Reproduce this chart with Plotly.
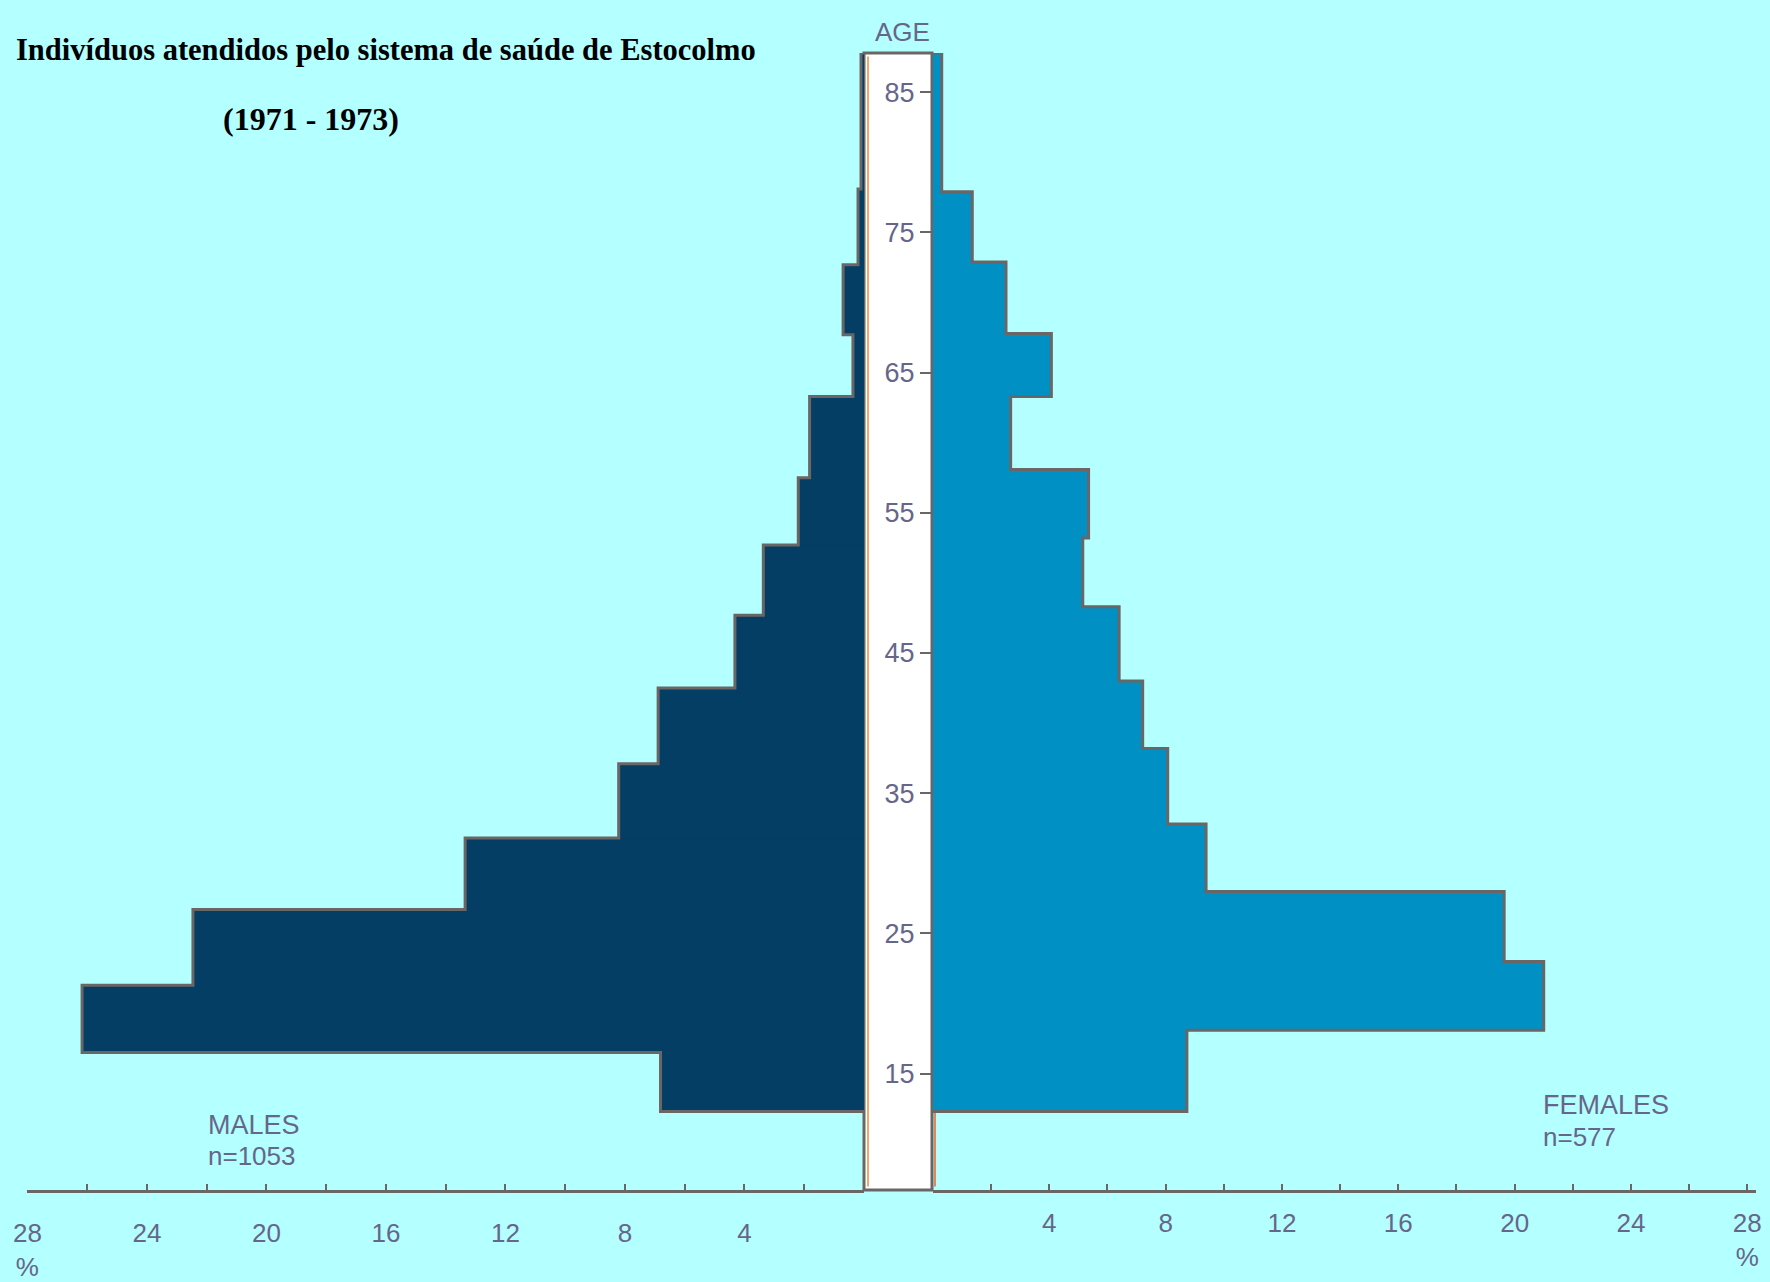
import plotly.graph_objects as go

# ---------------- data ----------------
# age-group bin edges (years) and percentage of individuals in each group
male_age_edges = [12.3, 16.5, 21.3, 26.7, 31.8, 37.1, 42.5, 47.7, 52.7, 57.5, 63.3, 67.7, 72.7, 78.1, 87.8]
male_pct = [6.81, 26.17, 22.46, 13.35, 8.21, 6.89, 4.32, 3.37, 2.20, 1.82, 0.37, 0.70, 0.20, 0.10]

female_age_edges = [12.3, 18.1, 23.0, 28.0, 32.8, 38.2, 43.0, 48.3, 53.2, 58.1, 63.3, 67.8, 72.9, 77.9, 87.8]
female_pct = [8.73, 21.0, 19.64, 9.39, 8.07, 7.21, 6.40, 5.15, 5.35, 2.67, 4.07, 2.51, 1.35, 0.30]

age_ticks = [15, 25, 35, 45, 55, 65, 75, 85]
pct_ticks = [2, 4, 6, 8, 10, 12, 14, 16, 18, 20, 22, 24, 26, 28]
pct_labels = ["", "4", "", "8", "", "12", "", "16", "", "20", "", "24", "", "28<br>%"]

title_text = "Indivíduos atendidos pelo sistema de saúde de Estocolmo"
years_text = "(1971 - 1973)"
male_label = "MALES"
male_n = "n=1053"
female_label = "FEMALES"
female_n = "n=577"
age_label = "AGE"

# ---------------- styling ----------------
W, H = 1770, 1282
TOP, BOTTOM = 53, 1190
BG = "#B4FFFF"
MALE_C = "#043E64"
FEMALE_C = "#0090C4"
EDGE_C = "#6a6666"
TXT_C = "#66668a"
SANS = "Liberation Sans, Arial"
SERIF = "Liberation Serif, Times New Roman, serif"


def py(ypx):
    return (BOTTOM - ypx) / (BOTTOM - TOP)


def px(xpx):
    return xpx / W


def centers(edges):
    return [(edges[i] + edges[i + 1]) / 2 for i in range(len(edges) - 1)]


def widths(edges):
    return [edges[i + 1] - edges[i] for i in range(len(edges) - 1)]


def outline(edges, vals):
    xs, ys = [0], [edges[0]]
    for i, v in enumerate(vals):
        xs += [v, v]
        ys += [edges[i], edges[i + 1]]
    xs.append(0)
    ys.append(edges[-1])
    return xs, ys


fig = go.Figure()

fig.add_trace(go.Bar(
    x=male_pct, y=centers(male_age_edges), width=widths(male_age_edges),
    orientation="h", marker=dict(color=MALE_C, line=dict(width=1.5, color=MALE_C)),
    xaxis="x", yaxis="y", name="Males", hoverinfo="x+y"))
fig.add_trace(go.Bar(
    x=female_pct, y=centers(female_age_edges), width=widths(female_age_edges),
    orientation="h", marker=dict(color=FEMALE_C, line=dict(width=1.5, color=FEMALE_C)),
    xaxis="x2", yaxis="y", name="Females", hoverinfo="x+y"))

mx, my = outline(male_age_edges, male_pct)
fig.add_trace(go.Scatter(x=mx, y=my, mode="lines", line=dict(color=EDGE_C, width=3),
                         xaxis="x", yaxis="y", hoverinfo="skip"))
fx, fy = outline(female_age_edges, female_pct)
fig.add_trace(go.Scatter(x=fx, y=fy, mode="lines", line=dict(color=EDGE_C, width=3),
                         xaxis="x2", yaxis="y", hoverinfo="skip"))

male_left, male_right = 27.4, 864
fem_left, fem_right = 933, 1756

axis_common = dict(
    showgrid=False, zeroline=False, showline=True, linecolor=EDGE_C, linewidth=3,
    ticks="inside", ticklen=6, tickwidth=2, tickcolor=EDGE_C,
    tickvals=pct_ticks, ticktext=pct_labels,
    tickfont=dict(family=SANS, size=26, color=TXT_C),
    anchor="y", fixedrange=True, automargin=False)

fig.update_layout(
    width=W, height=H,
    margin=dict(l=0, r=0, t=TOP, b=H - BOTTOM, pad=0, autoexpand=False),
    paper_bgcolor=BG, plot_bgcolor=BG,
    showlegend=False, barmode="overlay",
    xaxis=dict(domain=[px(male_left), px(male_right)], range=[28, 0],
               ticklabelstandoff=18, **axis_common),
    xaxis2=dict(domain=[px(fem_left), px(fem_right)], range=[0, 28.3],
                ticklabelstandoff=8, **axis_common),
    yaxis=dict(anchor="x2", side="left", range=[6.7, 87.8],
               showgrid=False, zeroline=False, showline=False,
               ticks="outside", ticklen=12, tickwidth=2, tickcolor=EDGE_C,
               tickvals=age_ticks, ticktext=[str(a) for a in age_ticks],
               tickfont=dict(family=SANS, size=27, color=TXT_C),
               fixedrange=True, automargin=False),
)

# white central age strip
fig.add_shape(type="rect", xref="paper", yref="paper",
              x0=px(864), x1=px(932), y0=0, y1=1,
              fillcolor="white", line=dict(color=EDGE_C, width=3), layer="below")
fig.add_shape(type="line", xref="paper", yref="paper",
              x0=px(868), x1=px(868), y0=0.003, y1=0.997,
              line=dict(color="#f2a868", width=2), layer="below")
fig.add_shape(type="line", xref="paper", yref="paper",
              x0=px(935), x1=px(935), y0=0.003, y1=0.997,
              line=dict(color="#e08a5a", width=2), layer="below")

ann = [
    dict(text="<b>" + title_text + "</b>", x=px(14), y=py(50), xanchor="left", yanchor="middle",
         font=dict(family=SERIF, size=30.5, color="black")),
    dict(text="<b>" + years_text + "</b>", x=px(311), y=py(119), xanchor="center", yanchor="middle",
         font=dict(family=SERIF, size=32, color="black")),
    dict(text=age_label, x=px(903), y=py(32), xanchor="center", yanchor="middle",
         font=dict(family=SANS, size=26, color=TXT_C)),
    dict(text=male_label, x=px(206), y=py(1125), xanchor="left", yanchor="middle",
         font=dict(family=SANS, size=27, color=TXT_C)),
    dict(text=male_n, x=px(206), y=py(1156), xanchor="left", yanchor="middle",
         font=dict(family=SANS, size=26, color=TXT_C)),
    dict(text=female_label, x=px(1541), y=py(1105), xanchor="left", yanchor="middle",
         font=dict(family=SANS, size=27, color=TXT_C)),
    dict(text=female_n, x=px(1541), y=py(1137), xanchor="left", yanchor="middle",
         font=dict(family=SANS, size=26, color=TXT_C)),
]
for a in ann:
    fig.add_annotation(xref="paper", yref="paper", showarrow=False, **a)

fig.write_html("out.html", config={"displayModeBar": False},
               post_script="document.body.style.margin='0';")
